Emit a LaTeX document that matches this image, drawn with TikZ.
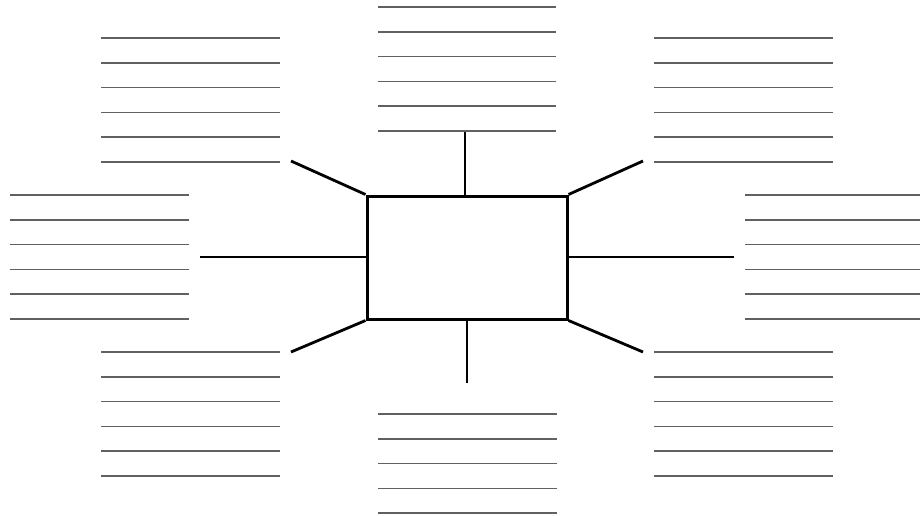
\documentclass[tikz,border=0pt]{standalone}
\begin{document}
\begin{tikzpicture}[x=1pt,y=-1pt,
  writeline/.style={draw=black!62,line width=1.5pt},
  spoke/.style={draw=black,line width=2.8pt},
  centerbox/.style={draw=black,line width=3pt,minimum width=200pt,minimum height=123pt,inner sep=0pt}]
\useasboundingbox[fill=white] (0,0) rectangle (920,516);
% central box
\node[centerbox] (box) at (467,257.5) {};
% spoke ends
\coordinate (ntop) at (465,131);
\coordinate (nbot) at (467,383);
\coordinate (nleft) at (200,257);
\coordinate (nright) at (734,257);
\coordinate (ntl) at (291,161);
\coordinate (nbl) at (291,352);
\coordinate (ntr) at (643,161);
\coordinate (nbr) at (643,352);
\draw[spoke] (box.north -| ntop) -- (ntop);
\draw[spoke] (box.south -| nbot) -- (nbot);
\draw[spoke] (box.west |- nleft) -- (nleft);
\draw[spoke] (box.east |- nright) -- (nright);
\draw[spoke] (box.north west) -- (ntl);
\draw[spoke] (box.south west) -- (nbl);
\draw[spoke] (box.north east) -- (ntr);
\draw[spoke] (box.south east) -- (nbr);
% writing lines
\foreach \k in {0,...,5} {
  \draw[writeline] (101,38+24.8*\k) -- (280,38+24.8*\k);
  \draw[writeline] (654,38+24.8*\k) -- (833,38+24.8*\k);
  \draw[writeline] (378,7+24.8*\k) -- (556,7+24.8*\k);
  \draw[writeline] (10,195+24.8*\k) -- (189,195+24.8*\k);
  \draw[writeline] (745,195+24.8*\k) -- (920,195+24.8*\k);
  \draw[writeline] (101,352+24.8*\k) -- (280,352+24.8*\k);
  \draw[writeline] (654,352+24.8*\k) -- (833,352+24.8*\k);
}
\foreach \k in {0,...,4} {
  \draw[writeline] (378,414+24.8*\k) -- (557,414+24.8*\k);
}
\end{tikzpicture}
\end{document}
